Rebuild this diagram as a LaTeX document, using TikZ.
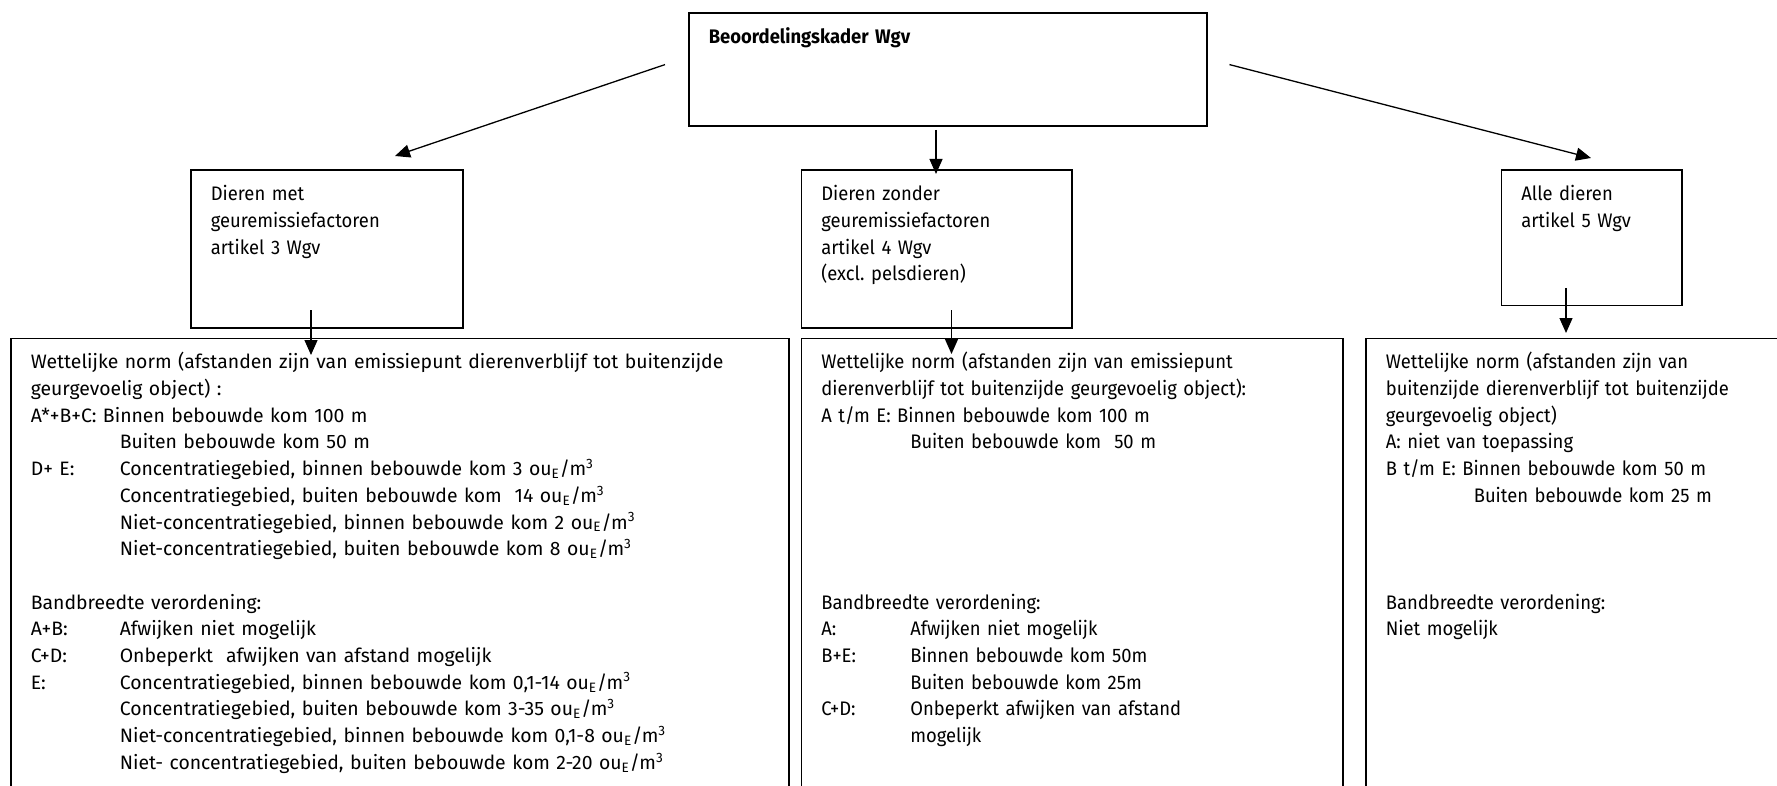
\documentclass[tikz,border=0pt]{standalone}
\usepackage{fontspec}
\setmainfont{Fira Sans}
\newfontfamily\smalfont{Fira Sans}[FakeStretch=0.94]
\usetikzlibrary{arrows.meta}
\frenchspacing

\tikzset{
  vak/.style={draw, line width=0.8pt, anchor=north west, align=left,
    inner xsep=10pt, inner ysep=5.25pt, text height=10pt,
    font=\smalfont\fontsize{9.8pt}{13.35pt}\selectfont},
  breed/.style={font=\normalfont\fontsize{9.7pt}{13.35pt}\selectfont},
  pijl/.style={-{Triangle[length=7.5pt,width=6.5pt]}, line width=0.65pt}
}
\newcommand{\tabel}[1]{\makebox[44.5pt][l]{#1}}
\newcommand{\oueq}{ou\textsubscript{E}/m\textsuperscript{3}}

\begin{document}
\begin{tikzpicture}[x=0.5pt, y=-0.5pt]
    \fill[white] (0,0) rectangle (1777,786);
    \useasboundingbox (0,0) rectangle (1777,786);
    \clip (0,0) rectangle (1777,786);

    % Top box
    \node[vak, text width=239pt, text depth=35.75pt] (kader) at (688,12.5)
        {\textbf{Beoordelingskader Wgv}};

    % Three groups of animals
    \node[vak, text width=116pt, text depth=58.25pt] (met) at (190,169.5)
        {Dieren met\\geuremissiefactoren\\artikel 3 Wgv};
    \node[vak, text width=115.25pt, text depth=58.25pt] (zonder) at (800.5,169.5)
        {Dieren zonder\\geuremissiefactoren\\artikel 4 Wgv\\(excl.\ pelsdieren)};
    \node[vak, text width=70.25pt, text depth=47.1pt] (alle) at (1500.5,169.5)
        {Alle dieren\\artikel 5 Wgv};

    % Norms
    \node[vak, breed, text width=369pt, text depth=219.5pt] (normmet) at (10,337.5)
        {Wettelijke norm (afstanden zijn van emissiepunt dierenverblijf tot buitenzijde\\
         geurgevoelig object) :\\
         A*+B+C: Binnen bebouwde kom 100 m\\
         \tabel{}Buiten bebouwde kom 50 m\\
         \tabel{D+ E:}Concentratiegebied, binnen bebouwde kom 3 \oueq\\
         \tabel{}Concentratiegebied, buiten bebouwde kom\ \ 14 \oueq\\
         \tabel{}Niet-concentratiegebied, binnen bebouwde kom 2 \oueq\\
         \tabel{}Niet-concentratiegebied, buiten bebouwde kom 8 \oueq\\[13.35pt]
         Bandbreedte verordening:\\
         \tabel{A+B:}Afwijken niet mogelijk\\
         \tabel{C+D:}Onbeperkt\ \ afwijken van afstand mogelijk\\
         \tabel{E:}Concentratiegebied, binnen bebouwde kom 0,1-14 \oueq\\
         \tabel{}Concentratiegebied, buiten bebouwde kom 3-35 \oueq\\
         \tabel{}Niet-concentratiegebied, binnen bebouwde kom 0,1-8 \oueq\\
         \tabel{}Niet- concentratiegebied, buiten bebouwde kom 2-20 \oueq};
    \node[vak, text width=250.75pt, text depth=219.5pt] (normzonder) at (800.5,337.5)
        {Wettelijke norm (afstanden zijn van emissiepunt\\
         dierenverblijf tot buitenzijde geurgevoelig object):\\
         A t/m E: Binnen bebouwde kom 100 m\\
         \tabel{}Buiten bebouwde kom\ \ 50 m\\[66.75pt]
         Bandbreedte verordening:\\
         \tabel{A:}Afwijken niet mogelijk\\
         \tabel{B+E:}Binnen bebouwde kom 50m\\
         \tabel{}Buiten bebouwde kom 25m\\
         \tabel{C+D:}Onbeperkt afwijken van afstand\\
         \tabel{}mogelijk};
    \node[vak, text width=230pt, text depth=219.5pt] (normalle) at (1365,337.5)
        {Wettelijke norm (afstanden zijn van\\
         buitenzijde dierenverblijf tot buitenzijde\\
         geurgevoelig object)\\
         A: niet van toepassing\\
         B t/m E: Binnen bebouwde kom 50 m\\
         \hspace*{44pt}Buiten bebouwde kom 25 m\\[40.05pt]
         Bandbreedte verordening:\\
         Niet mogelijk};

    % Arrow ends
    \coordinate (k1) at (665,64.6);
    \coordinate (m1) at (395,156);
    \coordinate (k2) at (936,130);
    \coordinate (z1) at (936,174);
    \coordinate (k3) at (1229.5,64.6);
    \coordinate (a1) at (1591,158);
    \coordinate (m2) at (311,310);
    \coordinate (nm) at (311,355);
    \coordinate (z2) at (951.5,310);
    \coordinate (nz) at (951.5,354);
    \coordinate (a2) at (1566,288);
    \coordinate (na) at (1566,333);

    \draw[pijl] (k1) -- (m1);
    \draw[pijl] (k2) -- (z1);
    \draw[pijl] (k3) -- (a1);
    \draw[pijl] (m2) -- (nm);
    \draw[pijl] (z2) -- (nz);
    \draw[pijl] (a2) -- (na);
\end{tikzpicture}
\end{document}
